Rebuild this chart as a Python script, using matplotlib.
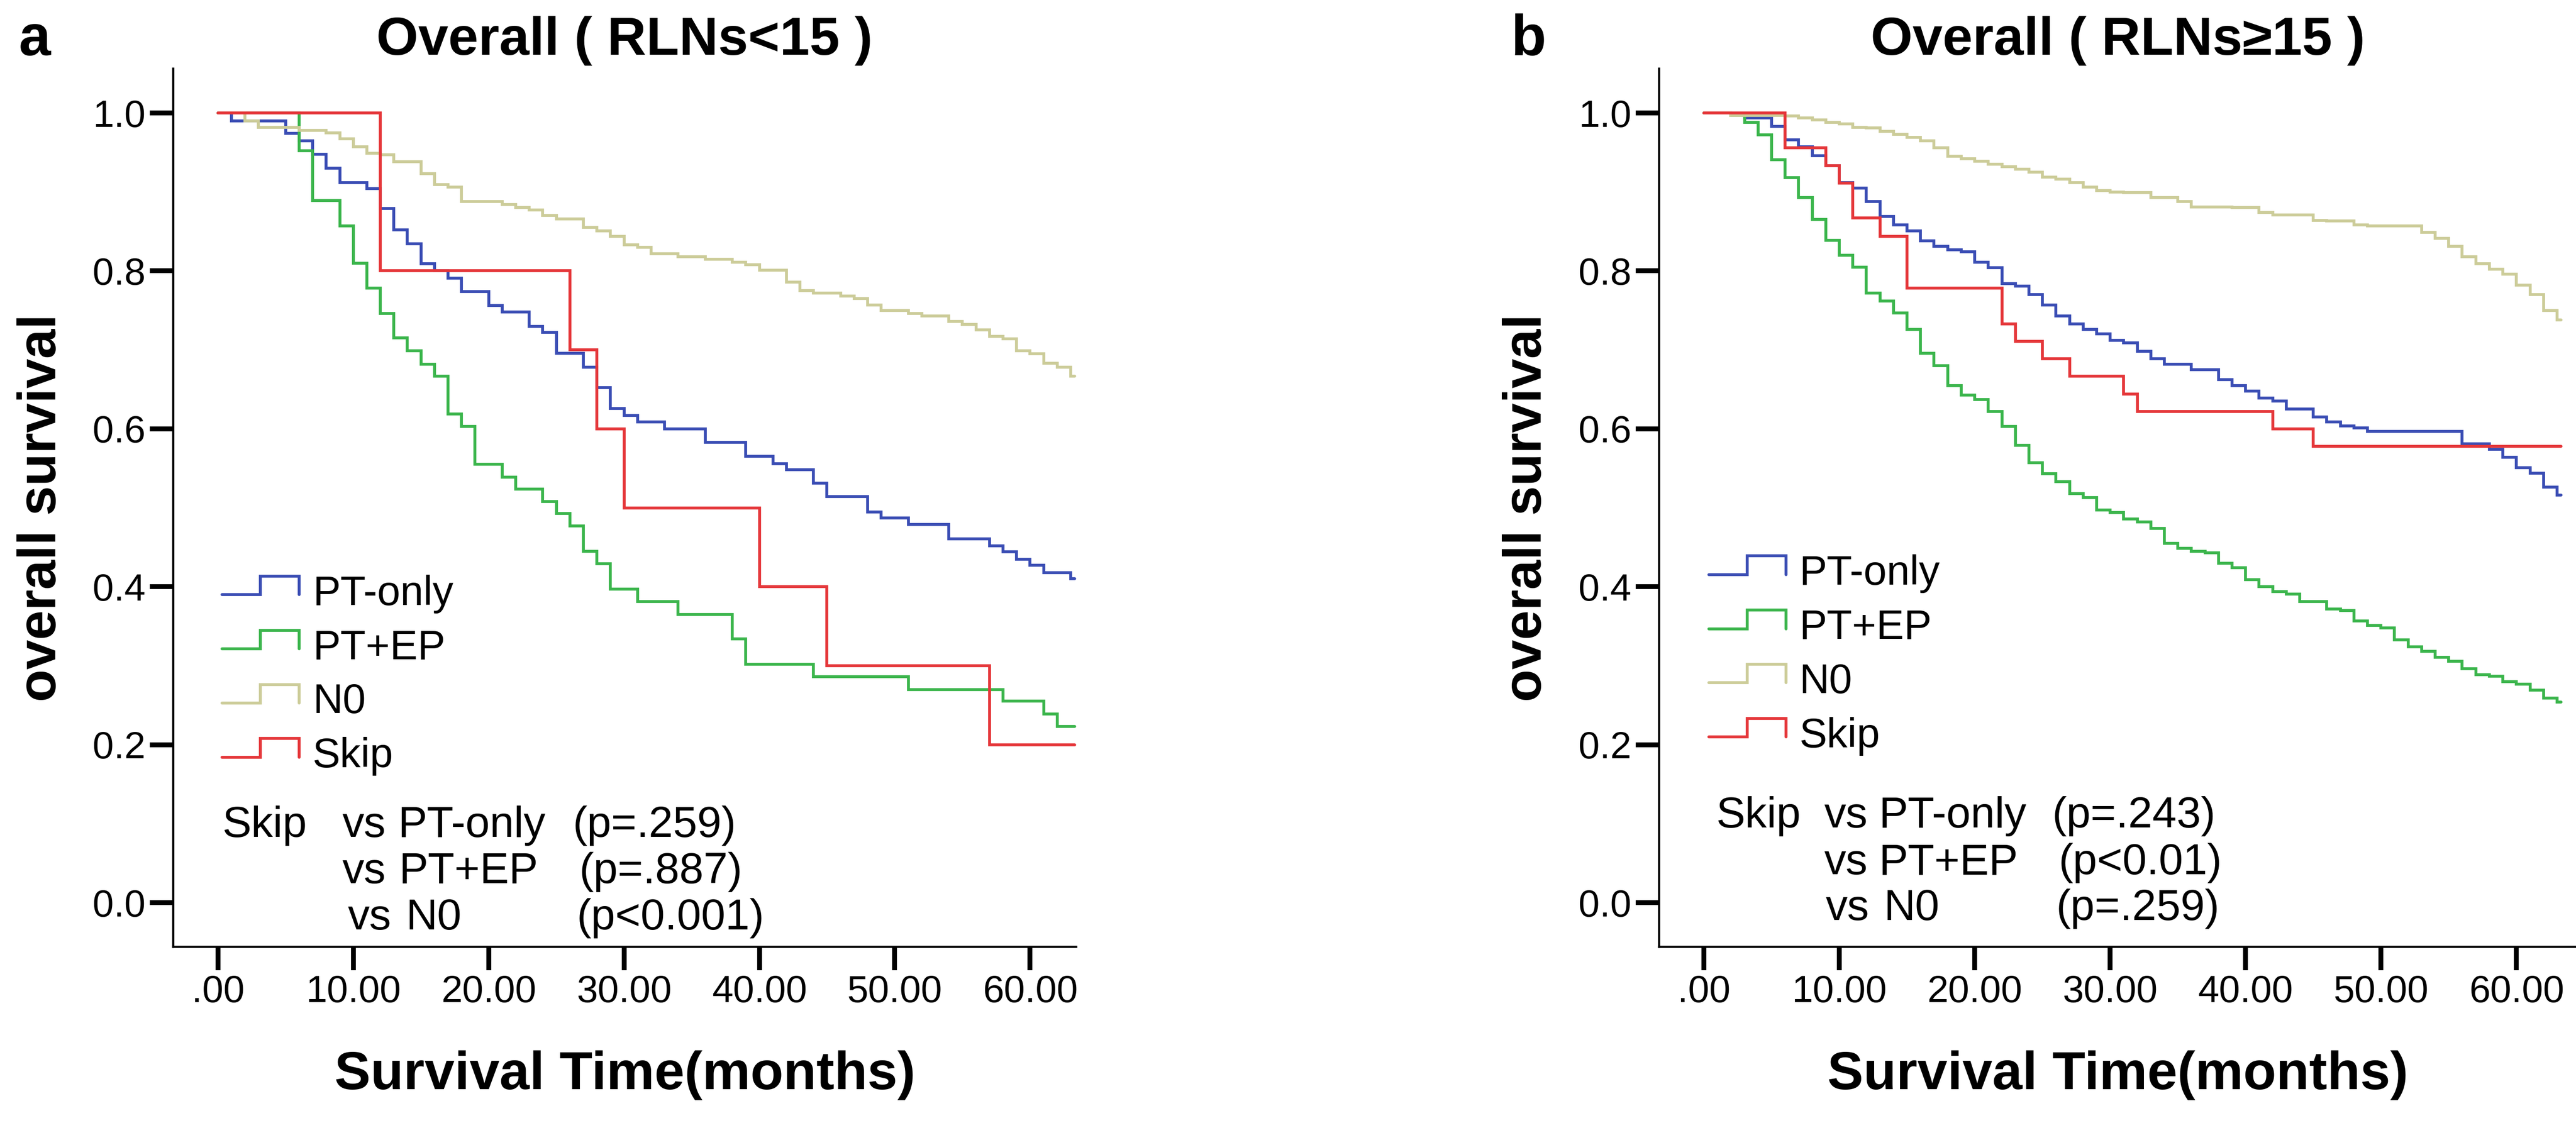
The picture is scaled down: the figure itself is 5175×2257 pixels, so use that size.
import matplotlib
matplotlib.use("Agg")
import matplotlib.pyplot as plt
from matplotlib.lines import Line2D
from matplotlib.legend_handler import HandlerBase
from matplotlib import font_manager

# ---- data ---------------------------------------------------------------
groups = ["PT-only", "PT+EP", "N0", "Skip"]

# panel a : RLNs < 15
a_pt_only_t = [0, 1, 5, 6, 7, 8, 9, 11, 12, 13, 14, 15, 16, 17, 18, 20, 21, 23, 24, 25,
               27, 28, 29, 30, 31, 33, 36, 39, 41, 42, 44, 45, 48, 49, 51, 54, 57, 58,
               59, 60, 61, 63, 63.3]
a_pt_only_s = [1.0, 0.990, 0.974, 0.965, 0.948, 0.930, 0.912, 0.904, 0.879, 0.852, 0.834,
               0.809, 0.800, 0.791, 0.774, 0.756, 0.748, 0.730, 0.722, 0.696, 0.678, 0.652,
               0.626, 0.617, 0.609, 0.600, 0.583, 0.565, 0.556, 0.548, 0.531, 0.514, 0.495,
               0.487, 0.479, 0.461, 0.452, 0.444, 0.435, 0.427, 0.418, 0.410, 0.410]
a_pt_ep_t = [0, 6, 7, 9, 10, 11, 12, 13, 14, 15, 16, 17, 18, 19, 21, 22, 24, 25, 26, 27,
             28, 29, 31, 34, 38, 39, 44, 51, 58, 61, 62, 63.3]
a_pt_ep_s = [1.0, 0.952, 0.889, 0.857, 0.810, 0.778, 0.746, 0.715, 0.699, 0.682, 0.667,
             0.619, 0.603, 0.555, 0.539, 0.524, 0.508, 0.493, 0.477, 0.445, 0.429, 0.397,
             0.381, 0.365, 0.334, 0.302, 0.286, 0.270, 0.255, 0.239, 0.223, 0.223]
a_n0_t = [0, 2, 3, 6, 8, 9, 10, 11, 12, 13, 15, 16, 17, 18, 21, 22, 23, 24, 25, 27, 28,
          29, 30, 31, 32, 34, 36, 38, 39, 40, 42, 43, 44, 46, 47, 48, 49, 51, 52, 54, 55,
          56, 57, 58, 59, 60, 61, 62, 63, 63.3]
a_n0_s = [1.0, 0.990, 0.982, 0.978, 0.975, 0.967, 0.957, 0.949, 0.947, 0.938, 0.923,
          0.909, 0.906, 0.888, 0.884, 0.880, 0.877, 0.870, 0.866, 0.855, 0.851, 0.844,
          0.833, 0.830, 0.822, 0.818, 0.815, 0.811, 0.808, 0.801, 0.786, 0.775, 0.772,
          0.768, 0.765, 0.757, 0.750, 0.746, 0.743, 0.736, 0.732, 0.725, 0.717, 0.714,
          0.699, 0.695, 0.683, 0.678, 0.667, 0.667]
a_skip_t = [0, 12, 26, 28, 30, 40, 45, 57, 63.3]
a_skip_s = [1.0, 0.8, 0.7, 0.6, 0.5, 0.4, 0.3, 0.2, 0.2]

# panel b : RLNs >= 15
b_pt_only_t = [0, 2, 3, 5, 6, 7, 8, 9, 10, 11, 12, 13, 14, 15, 16, 17, 18, 19, 20, 21,
               22, 23, 24, 25, 26, 27, 28, 29, 30, 31, 32, 33, 34, 36, 38, 39, 40, 41,
               42, 43, 45, 46, 47, 48, 49, 56, 58, 59, 60, 61, 62, 63, 63.3]
b_pt_only_s = [1.0, 0.997, 0.994, 0.983, 0.966, 0.957, 0.946, 0.933, 0.912, 0.905, 0.888,
               0.869, 0.858, 0.851, 0.838, 0.831, 0.827, 0.824, 0.811, 0.804, 0.784, 0.781,
               0.770, 0.757, 0.743, 0.733, 0.726, 0.720, 0.712, 0.709, 0.698, 0.689, 0.682,
               0.675, 0.662, 0.655, 0.648, 0.639, 0.635, 0.625, 0.615, 0.609, 0.604, 0.601,
               0.597, 0.581, 0.574, 0.564, 0.551, 0.544, 0.526, 0.516, 0.516]
b_pt_ep_t = [0, 2, 3, 4, 5, 6, 7, 8, 9, 10, 11, 12, 13, 14, 15, 16, 17, 18, 19, 20, 21,
             22, 23, 24, 25, 26, 27, 28, 29, 30, 31, 32, 33, 34, 35, 36, 37, 38, 39, 40,
             41, 42, 43, 44, 46, 47, 48, 49, 50, 51, 52, 53, 54, 55, 56, 57, 58, 59, 60,
             61, 62, 63, 63.3]
b_pt_ep_s = [1.0, 0.997, 0.988, 0.972, 0.941, 0.918, 0.893, 0.865, 0.839, 0.820, 0.805,
             0.772, 0.762, 0.747, 0.726, 0.696, 0.680, 0.655, 0.643, 0.637, 0.622, 0.603,
             0.579, 0.557, 0.543, 0.533, 0.518, 0.513, 0.497, 0.494, 0.486, 0.482, 0.474,
             0.455, 0.449, 0.445, 0.443, 0.430, 0.424, 0.409, 0.400, 0.394, 0.391, 0.381,
             0.372, 0.370, 0.357, 0.351, 0.348, 0.333, 0.324, 0.318, 0.311, 0.306, 0.296,
             0.289, 0.287, 0.280, 0.277, 0.269, 0.259, 0.254, 0.254]
b_n0_t = [0, 2, 6, 7, 8, 9, 10, 11, 12, 13, 14, 15, 16, 17, 18, 19, 20, 21, 22, 23, 24,
          25, 26, 27, 28, 29, 30, 31, 33, 35, 36, 39, 41, 42, 45, 46, 48, 49, 53, 54, 55,
          56, 57, 58, 59, 60, 61, 62, 63, 63.3]
b_n0_s = [1.0, 0.997, 0.996, 0.994, 0.991, 0.988, 0.986, 0.982, 0.981, 0.977, 0.973,
          0.969, 0.965, 0.956, 0.945, 0.942, 0.939, 0.935, 0.932, 0.929, 0.925, 0.919,
          0.916, 0.912, 0.906, 0.902, 0.900, 0.899, 0.893, 0.888, 0.881, 0.880, 0.874,
          0.871, 0.864, 0.863, 0.858, 0.857, 0.849, 0.841, 0.831, 0.818, 0.809, 0.802,
          0.796, 0.782, 0.770, 0.750, 0.738, 0.738]
b_skip_t = [0, 6, 9, 10, 11, 13, 15, 22, 23, 25, 27, 31, 32, 42, 45, 63.3]
b_skip_s = [1.0, 0.956, 0.933, 0.911, 0.867, 0.844, 0.778, 0.733, 0.711, 0.689, 0.667,
            0.644, 0.622, 0.600, 0.578, 0.578]

x_ticks = [0, 10, 20, 30, 40, 50, 60]
x_tick_labels = [".00", "10.00", "20.00", "30.00", "40.00", "50.00", "60.00"]
y_ticks = [0.0, 0.2, 0.4, 0.6, 0.8, 1.0]
y_tick_labels = ["0.0", "0.2", "0.4", "0.6", "0.8", "1.0"]

a_title = "Overall ( RLNs<15 )"
b_title = "Overall ( RLNs\u226515 )"
a_pvals = ["(p=.259)", "(p=.887)", "(p<0.001)"]
b_pvals = ["(p=.243)", "(p<0.01)", "(p=.259)"]
compare_with = ["PT-only", "PT+EP", "N0"]

colors = {"PT-only": "#3a4db4", "PT+EP": "#3bb54c", "N0": "#cccc99", "Skip": "#e5373a"}

# ---- fonts -----------------------------------------------------------------
try:
    font_manager.findfont("Liberation Sans Narrow", fallback_to_default=False)
    tick_family, tick_size = "Liberation Sans Narrow", 58
except ValueError:
    tick_family, tick_size = "Liberation Sans", 55
plt.rcParams["font.family"] = ["Liberation Sans", "DejaVu Sans"]


class StepHandler(HandlerBase):
    # the little step glyph SPSS puts in its legend
    def create_artists(self, legend, orig_handle, xdescent, ydescent, width, height,
                       fontsize, trans):
        x0 = -xdescent
        h = 0.45 * fontsize
        y0 = -ydescent + height / 2 - h / 2 + 0.12 * fontsize
        xs = [x0, x0 + 0.5 * width, x0 + 0.5 * width, x0 + width, x0 + width]
        ys = [y0, y0, y0 + h, y0 + h, y0]
        ln = Line2D(xs, ys, color=orig_handle.get_color(), lw=orig_handle.get_linewidth(),
                    solid_capstyle="round", solid_joinstyle="miter")
        ln.set_transform(trans)
        return [ln]


def draw_panel(ax, curves, title, pvals, leg_y, note_y, note_cols):
    for name, (t, s) in zip(groups, curves):
        ax.step(t, s, where="post", color=colors[name], lw=4.2, label=name,
                solid_capstyle="round", solid_joinstyle="miter")

    ax.set_ylim(-0.056, 1.056)
    ax.set_xticks(x_ticks, labels=x_tick_labels)
    ax.set_yticks(y_ticks, labels=y_tick_labels)
    for sp in ("top", "right"):
        ax.spines[sp].set_visible(False)
    for sp in ("left", "bottom"):
        ax.spines[sp].set_linewidth(3.2)
    ax.tick_params(length=34, width=7, labelsize=tick_size, pad=6)
    for lab in ax.get_xticklabels() + ax.get_yticklabels():
        lab.set_family(tick_family)

    ax.set_xlabel("Survival Time(months)", fontsize=78, fontweight="bold")
    ax.xaxis.set_label_coords(0.5, -0.118)
    ax.set_ylabel("overall survival", fontsize=77, fontweight="bold")
    ax.text(0.5, 1.016, title, transform=ax.transAxes, ha="center", va="baseline",
            fontsize=78, fontweight="bold")

    ax.legend(handler_map={Line2D: StepHandler()}, loc="upper left",
              bbox_to_anchor=(0.054, leg_y), frameon=False, fontsize=60,
              handlelength=1.86, handletextpad=0.32, labelspacing=0.37,
              borderpad=0, borderaxespad=0)

    # pairwise log-rank notes
    xs_skip, xs_vs, xs_grp, xs_p = note_cols
    ax.text(xs_skip, note_y[0], "Skip", fontsize=63, va="baseline")
    for i, (grp, p) in enumerate(zip(compare_with, pvals)):
        ax.text(xs_vs[i], note_y[i], "vs", fontsize=63, va="baseline")
        ax.text(xs_grp[i], note_y[i], grp, fontsize=63, va="baseline")
        ax.text(xs_p[i], note_y[i], p, fontsize=63, va="baseline")


fig = plt.figure(figsize=(51.75, 22.57), dpi=100, facecolor="w")
ax_a = fig.add_axes([0.06725, 0.1568, 0.3505, 0.782])
ax_b = fig.add_axes([0.6441, 0.1568, 0.3559, 0.782])

draw_panel(ax_a,
           [(a_pt_only_t, a_pt_only_s), (a_pt_ep_t, a_pt_ep_s),
            (a_n0_t, a_n0_s), (a_skip_t, a_skip_s)],
           a_title, a_pvals, 0.424, [0.083, 0.025, -0.034],
           (0.3, [9.2, 9.2, 9.6], [13.3, 13.4, 13.9], [26.2, 26.7, 26.5]))
ax_a.set_xlim(-3.3, 63.4)
ax_a.yaxis.set_label_coords(-0.118, 0.5)

draw_panel(ax_b,
           [(b_pt_only_t, b_pt_only_s), (b_pt_ep_t, b_pt_ep_s),
            (b_n0_t, b_n0_s), (b_skip_t, b_skip_s)],
           b_title, b_pvals, 0.447, [0.095, 0.036, -0.022],
           (0.9, [8.9, 8.9, 9.0], [12.95, 12.95, 13.3], [25.7, 26.2, 26.0]))
ax_b.set_xlim(-3.3, 64.4)
ax_b.yaxis.set_label_coords(-0.117, 0.5)

fig.text(0.0072, 0.951, "a", fontsize=83, fontweight="bold", va="baseline")
fig.text(0.5865, 0.951, "b", fontsize=83, fontweight="bold", va="baseline")

fig.savefig("out.png", dpi=100)
